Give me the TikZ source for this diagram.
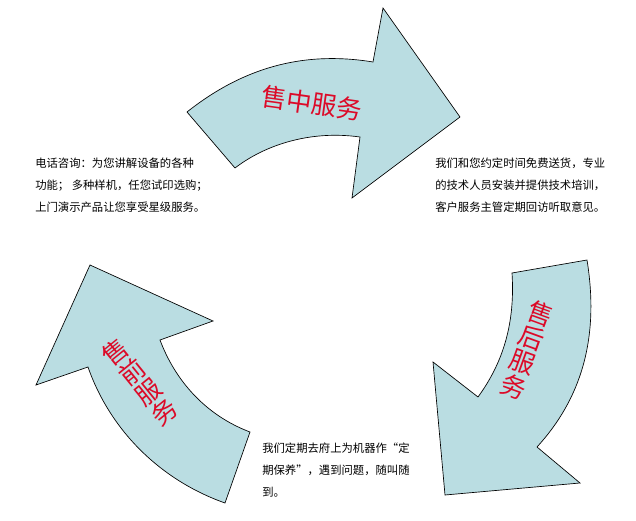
\documentclass[tikz,border=0pt]{standalone}
\usepackage{fontspec}
\newfontfamily\cjk{Noto Sans CJK SC}
\definecolor{ArrowBlue}{RGB}{186,221,226}
\definecolor{LabelRed}{RGB}{220,10,40}

\begin{document}
\begin{tikzpicture}[x=0.75pt, y=-0.75pt,
  bigarrow/.style={draw=black, fill=ArrowBlue, line width=0.5pt},
  stage/.style={font=\cjk\fontsize{19}{20}\selectfont, text=LabelRed, inner sep=0pt},
  note/.style={font=\cjk\fontsize{8.5}{16.5}\selectfont, align=left, anchor=north west, inner sep=0pt}]
\useasboundingbox (0,0) rectangle (636,521); % page size

% top arrow
\filldraw[bigarrow] (187,112) .. controls (240,70) and (300,50) .. (373,62)
  -- (383,8) -- (460,117) -- (352,198) -- (360,137)
  .. controls (310,130) and (265,145) .. (235,168) -- cycle;
% right arrow
\filldraw[bigarrow] (512,273) -- (587,260) .. controls (600,340) and (580,400) .. (537,447)
  -- (580,483) -- (445,495) -- (433,362) -- (478,397)
  .. controls (505,360) and (515,320) .. (512,273) -- cycle;
% left arrow
\filldraw[bigarrow] (225,503) .. controls (160,480) and (110,430) .. (88,367)
  -- (36,385) -- (90,265) -- (213,321) -- (160,340)
  .. controls (175,380) and (205,415) .. (250,432) -- cycle;

\node[stage, rotate=-8] (mid) at (312,103) {售中服务};
\node[stage, rotate=-20, align=center, font=\cjk\fontsize{19}{19.5}\selectfont] (after) at (527,350) {售\\后\\服\\务};
\node[stage, rotate=39, align=center, font=\cjk\fontsize{19}{19.5}\selectfont] (before) at (140,382) {售\\前\\服\\务};

\node[note] (pre) at (35,158) {电话咨询：为您讲解设备的各种\\功能； 多种样机，任您试印选购；\\上门演示产品让您享受星级服务。};
\node[note] (sale) at (435,158) {我们和您约定时间免费送货，专业\\的技术人员安装并提供技术培训，\\客户服务主管定期回访听取意见。};
\node[note] (post) at (262,443) {我们定期去府上为机器作“定\\期保养”，遇到问题，随叫随\\到。};
\end{tikzpicture}
\end{document}
